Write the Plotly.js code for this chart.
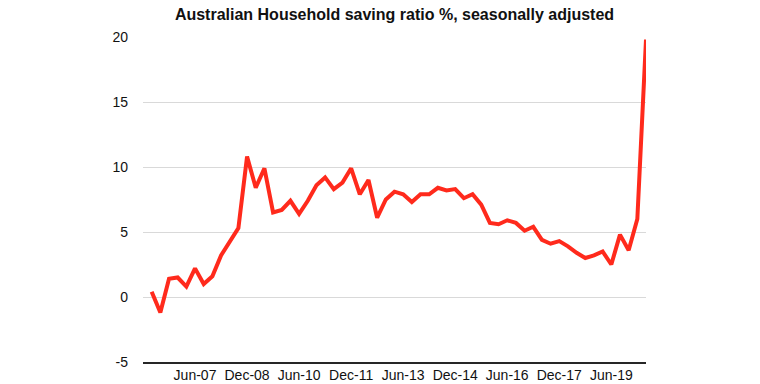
<!DOCTYPE html>
<html>
<head>
<meta charset="utf-8">
<script src="https://cdn.plot.ly/plotly-3.0.1.min.js"></script>
<style>html,body{margin:0;padding:0;background:#fff;}#chart{width:760px;height:384px;}</style>
</head>
<body>
<div id="chart"></div>
<script>
// Quarterly, Mar-06 .. Jun-20
const quarters = [
  "Mar-06","Jun-06","Sep-06","Dec-06","Mar-07","Jun-07","Sep-07","Dec-07",
  "Mar-08","Jun-08","Sep-08","Dec-08","Mar-09","Jun-09","Sep-09","Dec-09",
  "Mar-10","Jun-10","Sep-10","Dec-10","Mar-11","Jun-11","Sep-11","Dec-11",
  "Mar-12","Jun-12","Sep-12","Dec-12","Mar-13","Jun-13","Sep-13","Dec-13",
  "Mar-14","Jun-14","Sep-14","Dec-14","Mar-15","Jun-15","Sep-15","Dec-15",
  "Mar-16","Jun-16","Sep-16","Dec-16","Mar-17","Jun-17","Sep-17","Dec-17",
  "Mar-18","Jun-18","Sep-18","Dec-18","Mar-19","Jun-19","Sep-19","Dec-19",
  "Mar-20","Jun-20"
];
const savingRatio = [
  0.4, -1.2, 1.4, 1.5, 0.8, 2.2, 1.0, 1.6,
  3.2, 4.3, 5.3, 10.8, 8.4, 9.9, 6.5, 6.7,
  7.4, 6.4, 7.4, 8.6, 9.2, 8.3, 8.8, 9.9,
  7.9, 9.0, 6.1, 7.5, 8.1, 7.9, 7.3, 7.9,
  7.9, 8.4, 8.2, 8.3, 7.6, 7.9, 7.1, 5.7,
  5.6, 5.9, 5.7, 5.1, 5.4, 4.4, 4.1, 4.3,
  3.9, 3.4, 3.0, 3.2, 3.5, 2.5, 4.8, 3.6,
  6.0, 19.8
];
const tickLabels = ["Jun-07","Dec-08","Jun-10","Dec-11","Jun-13","Dec-14","Jun-16","Dec-17","Jun-19"];
const yTicks = [-5, 0, 5, 10, 15, 20];

const xIdx = quarters.map((q, i) => i);
const tickIdx = tickLabels.map(t => quarters.indexOf(t));

const trace = {
  x: xIdx,
  y: savingRatio,
  type: 'scatter',
  mode: 'lines',
  line: {color: '#ff2a1c', width: 4},
  hoverinfo: 'skip'
};

const font = "Helvetica Neue, Liberation Sans, Arial, sans-serif";

const layout = {
  width: 760,
  height: 384,
  margin: {l: 143, r: 114, t: 37, b: 22, pad: 0},
  paper_bgcolor: '#ffffff',
  plot_bgcolor: '#ffffff',
  showlegend: false,
  title: {
    text: '<b>Australian Household saving ratio %, seasonally adjusted</b>',
    font: {family: font, size: 16, color: '#111'},
    xref: 'paper', x: 0.5, xanchor: 'center', y: 0.963, yanchor: 'middle'
  },
  xaxis: {
    range: [-1, 57],
    tickmode: 'array',
    tickvals: tickIdx,
    ticktext: tickLabels,
    ticks: '',
    showgrid: false,
    zeroline: false,
    showline: true,
    linecolor: '#262626',
    linewidth: 1.5,
    tickfont: {family: font, size: 14, color: '#111'},
    fixedrange: true
  },
  yaxis: {
    range: [-5, 20],
    tickmode: 'array',
    tickvals: yTicks,
    ticktext: yTicks.map(String),
    ticks: '',
    showgrid: true,
    gridcolor: '#d9d9d9',
    gridwidth: 1,
    zeroline: false,
    showline: false,
    ticklabelstandoff: 14,
    tickfont: {family: font, size: 14, color: '#111'},
    fixedrange: true
  }
};

Plotly.newPlot('chart', [trace], layout, {displayModeBar: false, staticPlot: true});
</script>
</body>
</html>
